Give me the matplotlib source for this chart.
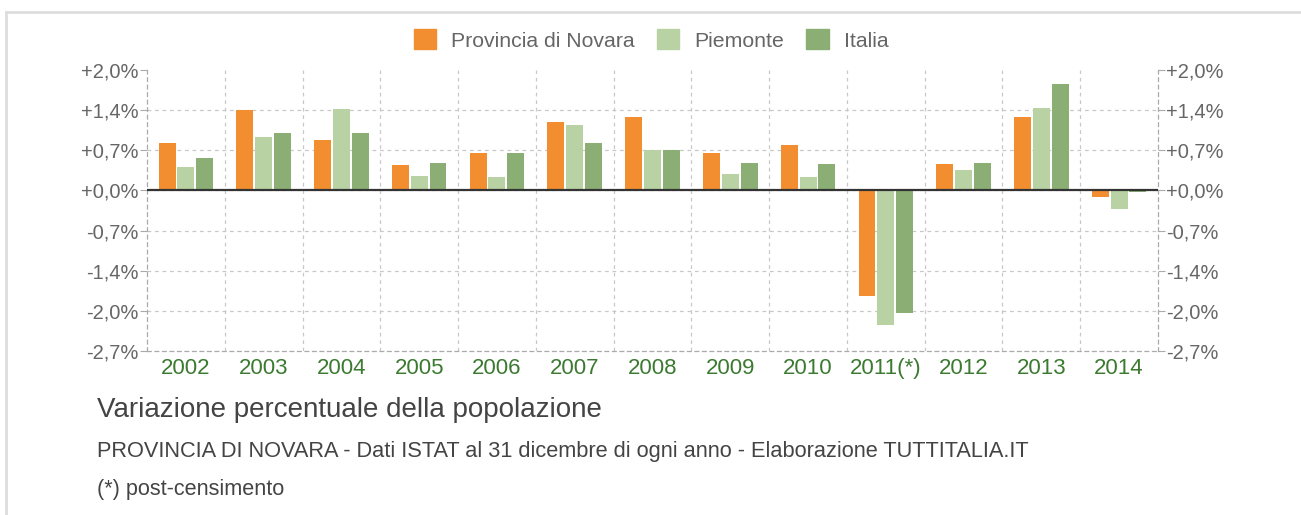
import matplotlib
matplotlib.use("Agg")
import matplotlib.pyplot as plt
import numpy as np
from matplotlib.patches import Rectangle
from matplotlib.lines import Line2D

plt.rcParams['font.family'] = ['Liberation Sans', 'DejaVu Sans']

years = ["2002", "2003", "2004", "2005", "2006", "2007", "2008", "2009", "2010", "2011(*)", "2012", "2013", "2014"]
novara = [0.81, 1.36, 0.85, 0.43, 0.63, 1.16, 1.24, 0.63, 0.77, -1.79, 0.45, 1.24, -0.11]
piemonte = [0.40, 0.90, 1.38, 0.24, 0.22, 1.10, 0.69, 0.28, 0.22, -2.28, 0.35, 1.40, -0.31]
italia = [0.55, 0.97, 0.97, 0.46, 0.63, 0.80, 0.69, 0.46, 0.45, -2.07, 0.46, 1.81, -0.02]
series_names = ["Provincia di Novara", "Piemonte", "Italia"]
yticks = [2.04, 1.36, 0.68, 0.0, -0.68, -1.36, -2.04, -2.72]
ytick_labels = ["+2,0%", "+1,4%", "+0,7%", "+0,0%", "-0,7%", "-1,4%", "-2,0%", "-2,7%"]

colors = ["#f28e30", "#b8d2a3", "#8aae74"]
W, H = 1301, 515
fig = plt.figure(figsize=(W / 100, H / 100), dpi=100)
fig.patch.set_facecolor("white")

# outer frame lines
fig.add_artist(Line2D([6 / W, 6 / W], [0, 1 - 12 / H], color="#dddddd", lw=2, transform=fig.transFigure))
fig.add_artist(Line2D([6 / W, 1], [1 - 12 / H, 1 - 12 / H], color="#dddddd", lw=2, transform=fig.transFigure))

ax = fig.add_axes([147 / W, 1 - 351 / H, (1158 - 147) / W, (351 - 70) / H])
x = np.arange(len(years))
off = 0.242
bw = 0.218
for i, (vals, c) in enumerate(zip([novara, piemonte, italia], colors)):
    ax.bar(x + (i - 1) * off, vals, width=bw, color=c, zorder=3, label=series_names[i])

ax.set_xlim(-0.5, len(years) - 0.5)
ax.set_ylim(-2.72, 2.04)
ax.set_yticks(yticks)
ax.set_yticklabels(ytick_labels)
ax.set_xticks(x)
ax.set_xticklabels(years)
ax.axhline(0, color="#333333", lw=1.6, zorder=4)

for yv in yticks[1:-1]:
    ax.axhline(yv, color="#c8c8c8", lw=0.9, ls=(0, (3, 3)), zorder=1)
for xv in np.arange(0.5, len(years) - 0.5, 1.0):
    ax.axvline(xv, color="#c8c8c8", lw=0.9, ls=(0, (3, 3)), zorder=1)

ax.spines["top"].set_visible(False)
for s in ["left", "right", "bottom"]:
    ax.spines[s].set_color("#aaaaaa")
    ax.spines[s].set_linestyle((0, (3, 3)))
    ax.spines[s].set_linewidth(0.9)

ax.tick_params(axis="y", which="both", left=True, right=True, labelleft=True, labelright=True,
               length=5, color="#aaaaaa", labelsize=14.5, labelcolor="#666666", pad=1)
ax.tick_params(axis="x", length=0, labelsize=16, labelcolor="#3b7a30", pad=5)

handles = [Rectangle((0, 0), 1, 1, color=c) for c in colors]
fig.legend(handles, series_names, loc="center", bbox_to_anchor=(651 / W, 1 - 40 / H), ncol=3,
           frameon=False, fontsize=15.3, labelcolor="#666666", handlelength=1.05, handleheight=1.05,
           handletextpad=0.7, columnspacing=1.05)

fig.text(97 / W, 1 - 410 / H, "Variazione percentuale della popolazione", fontsize=20,
         color="#444444", va="center", ha="left")
fig.text(97 / W, 1 - 452 / H,
         "PROVINCIA DI NOVARA - Dati ISTAT al 31 dicembre di ogni anno - Elaborazione TUTTITALIA.IT",
         fontsize=15.7, color="#444444", va="center", ha="left")
fig.text(97 / W, 1 - 490 / H, "(*) post-censimento", fontsize=15.6, color="#444444", va="center", ha="left")

fig.savefig("out.png", dpi=100, facecolor="white")
